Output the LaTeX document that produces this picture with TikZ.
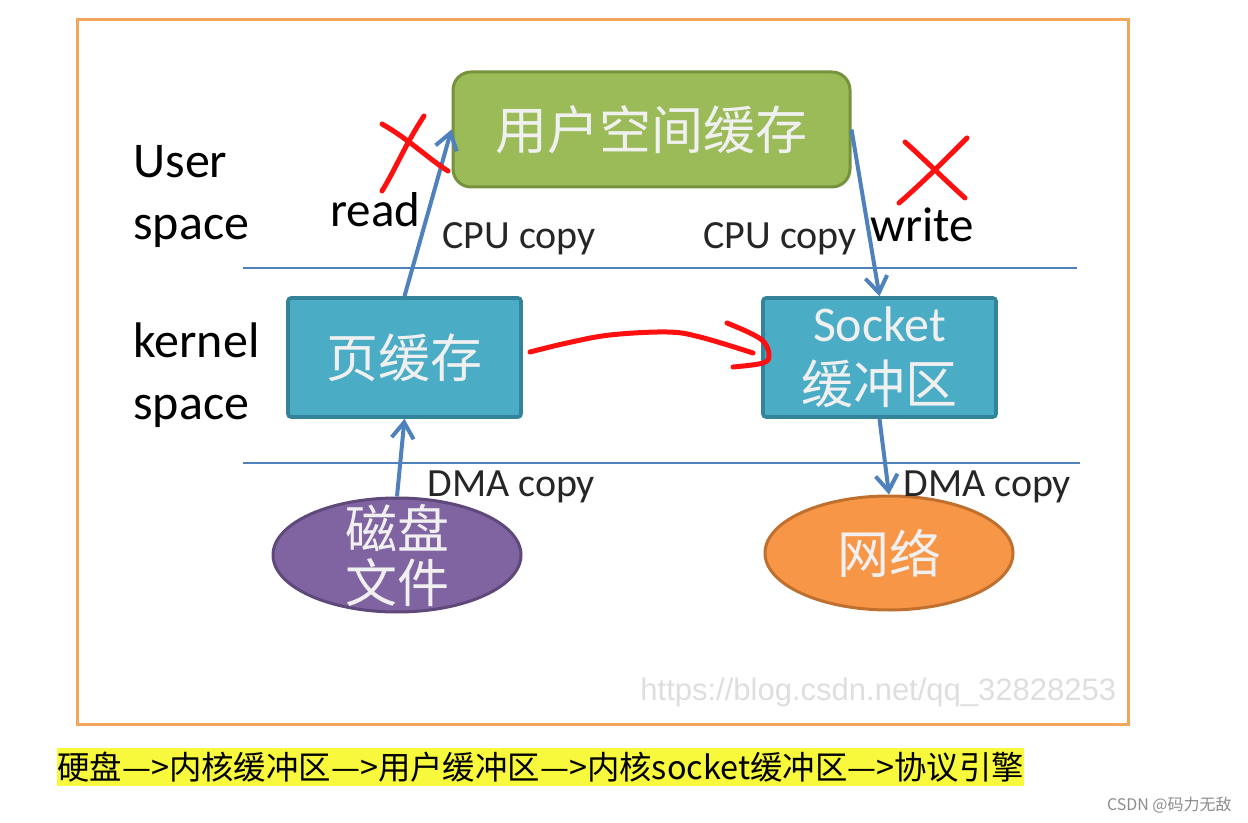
\documentclass[tikz,border=0pt]{standalone}
\usepackage{fontspec}
\setmainfont{Carlito}
\newfontfamily\cjk{Noto Sans CJK SC}
\newfontfamily\wmfont{Liberation Sans}
\usetikzlibrary{arrows.meta,shapes.geometric}
\definecolor{frameorange}{HTML}{F2A65A}
\definecolor{ugreen}{HTML}{9BBB59}
\definecolor{ugreenD}{HTML}{76923C}
\definecolor{kblue}{HTML}{4BACC6}
\definecolor{kblueD}{HTML}{33849A}
\definecolor{dpurple}{HTML}{8064A2}
\definecolor{dpurpleD}{HTML}{5F497A}
\definecolor{norange}{HTML}{F79646}
\definecolor{norangeD}{HTML}{C0702E}
\definecolor{arrowblue}{HTML}{4F81BD}
\definecolor{hlyellow}{HTML}{F8F83C}
\definecolor{inkred}{HTML}{FF1010}
\begin{document}
\begin{tikzpicture}[x=0.5pt,y=-0.5pt,
  lbl/.style={font=\fontsize{25}{30}\selectfont, text=black, inner sep=0, anchor=base west},
  rw/.style={font=\fontsize{24.5}{30}\selectfont, text=black, inner sep=0, anchor=base west},
  cpu/.style={font=\fontsize{20}{24}\selectfont, text=black!85, inner sep=0, anchor=base west},
  cjkw/.style={text=white!94!black, font=\cjk\fontsize{26}{27}\selectfont},
  ucbox/.style={rectangle, rounded corners=9pt, fill=ugreen, draw=ugreenD, line width=1.5pt,
    minimum width=198.5pt, minimum height=57.5pt, inner sep=0, cjkw},
  kbox/.style={rectangle, rounded corners=1.5pt, fill=kblue, draw=kblueD, line width=1.8pt,
    minimum width=116.5pt, minimum height=59.5pt, inner sep=0, cjkw},
  oval/.style={ellipse, line width=1.5pt, minimum width=124pt, minimum height=57pt, inner sep=0},
  flow/.style={draw=arrowblue, line width=2pt, -{Straight Barb[length=8pt,width=11pt]}},
  sepline/.style={draw=arrowblue, line width=0.6pt},
  redmark/.style={draw=inkred, line width=2.5pt, line cap=round, line join=round}
]
\useasboundingbox (0,0) rectangle (1248,823);
\draw[frameorange, line width=1.5pt] (77,20) rectangle (1128,724);

% separators
\coordinate (s1a) at (243,268); \coordinate (s1b) at (1077,268);
\coordinate (s2a) at (243,463); \coordinate (s2b) at (1080,463);
\draw[sepline] (s1a) -- (s1b);
\draw[sepline] (s2a) -- (s2b);

% watermark
\node[font=\wmfont\fontsize{15.5}{18}\selectfont, text=black!13, anchor=base west, inner sep=0] (wm) at (640,700) {https://blog.csdn.net/qq\_32828253};

% main nodes
\node[ucbox] (ucache) at (651.5,129.5) {用户空间缓存};
\node[kbox] (pc) at (404.5,357.5) {页缓存};
\node[kbox, align=center] (sock) at (879.5,357.5) {{\rmfamily\fontsize{25}{32}\selectfont Socket}\\[4pt]缓冲区};
\node[oval, fill=dpurple, draw=dpurpleD,
  label={[cjkw, align=center, inner sep=0]center:磁盘\\文件}] (disk) at (397,555) {};
\node[oval, fill=norange, draw=norangeD,
  label={[cjkw, inner sep=0]center:网络}] (net) at (889,553) {};

% side labels
\node[lbl] (u1) at (133,178) {User};
\node[lbl] (u2) at (133,240) {space};
\node[lbl] (k1) at (133,358) {kernel};
\node[lbl] (k2) at (133,420) {space};
\node[rw] (rd) at (330,227) {read};
\node[rw] (wr) at (870,242) {write};
\node[cpu] (c1) at (442,249) {CPU copy};
\node[cpu] (c2) at (703,249) {CPU copy};
\node[cpu] (d1) at (427,496) {DMA copy};
\node[cpu] (d2) at (903,496) {DMA copy};

% arrows
\draw[flow] (pc.north) -- (ucache.west);
\draw[flow] (ucache.east) -- (sock.north);
\draw[flow] (disk.north) -- (pc.south);
\draw[flow] (sock.south) -- (net.north);

% red hand annotations
\draw[redmark] (382,124) .. controls (410,140) and (430,160) .. (448,171);
\draw[redmark] (424,116) .. controls (405,145) and (395,170) .. (382,191);
\draw[redmark] (905,142) .. controls (925,160) and (945,180) .. (965,198);
\draw[redmark] (967,138) .. controls (945,160) and (920,185) .. (899,203);
\draw[redmark] plot[smooth, tension=0.6] coordinates {(530,352) (567,343) (610,335) (667,332) (700,337) (753,353)};
\draw[redmark] plot[smooth, tension=0.6] coordinates {(727,323) (750,333) (764,342) (769,355) (763,363) (733,367)};

% bottom caption
\node[fill=hlyellow, inner xsep=0, inner ysep=0, minimum height=19pt, anchor=west,
  font=\cjk\fontsize{16.2}{19}\selectfont] (caption) at (57,767) {硬盘—>内核缓冲区—>用户缓冲区—>内核socket缓冲区—>协议引擎};
\node[font=\cjk\fontsize{8}{10}\selectfont, text=black!45, anchor=east, inner sep=0] (csdn) at (1232,805) {CSDN @码力无敌};
\end{tikzpicture}
\end{document}
